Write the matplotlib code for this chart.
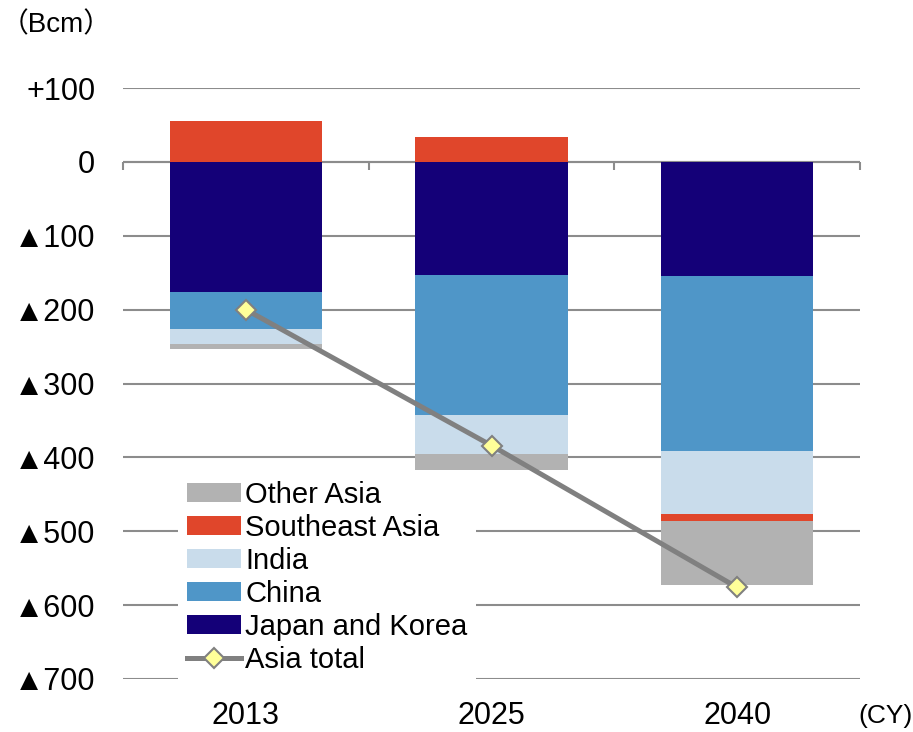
import matplotlib
matplotlib.use("Agg")
import matplotlib.pyplot as plt
import numpy as np

# data (Bcm)
years = ["2013", "2025", "2040"]
japan_korea = [-176, -153, -155]
china = [-50, -190, -237]
india = [-20, -53, -84]
southeast_asia = [55, 34, -10]
other_asia = [-7, -21, -87]
asia_total = [-200, -384, -576]

yticks = [100, 0, -100, -200, -300, -400, -500, -600, -700]
ytick_labels = ["+100", "0", "▲100", "▲200", "▲300", "▲400", "▲500", "▲600", "▲700"]

plt.rcParams['font.family'] = ['Liberation Sans', 'Noto Sans CJK JP', 'DejaVu Sans']

fig = plt.figure(figsize=(9.13, 7.32), dpi=100)
ax = fig.add_axes([123 / 913, 1 - 679 / 732, (860 - 123) / 913, (679 - 88) / 732])

x = np.arange(len(years))
width = 0.62

# stack order away from zero
series = [
    ("Japan and Korea", japan_korea, "#140078"),
    ("China", china, "#4f96c8"),
    ("India", india, "#c9dceb"),
    ("Southeast Asia", southeast_asia, "#e0462b"),
    ("Other Asia", other_asia, "#b2b2b2"),
]
pos = np.zeros(len(years))
neg = np.zeros(len(years))
handles = {}
for name, vals, col in series:
    vals = np.array(vals, dtype=float)
    bottom = np.where(vals >= 0, pos, neg)
    bars = ax.bar(x, vals, width, bottom=bottom, color=col, zorder=2)
    handles[name] = bars
    pos = pos + np.where(vals >= 0, vals, 0)
    neg = neg + np.where(vals < 0, vals, 0)

line, = ax.plot(x, asia_total, color="#808080", lw=3.6, marker="D", markersize=10,
                markerfacecolor="#ffff99", markeredgecolor="#808080", markeredgewidth=1.5,
                zorder=4, label="Asia total")

ax.set_xlim(-0.5, 2.5)
ax.set_ylim(-700, 100)
ax.set_yticks(yticks)
ax.set_yticklabels(ytick_labels)
ax.grid(axis="y", color="#8c8c8c", lw=1.5, zorder=0)
ax.set_axisbelow(True)
for s in ax.spines.values():
    s.set_visible(False)
ax.tick_params(axis="y", length=0, pad=20, labelsize=22)
ax.set_xticks(x)
ax.set_xticklabels(years)
ax.tick_params(axis="x", length=0, pad=16, labelsize=22)

# category axis at zero with boundary ticks
ax.axhline(0, color="#8c8c8c", lw=1.5, zorder=1)
ax.vlines([-0.5, 0.5, 1.5, 2.5], -11, 0, color="#8c8c8c", lw=1.5, zorder=1, clip_on=False)

order = ["Other Asia", "Southeast Asia", "India", "China", "Japan and Korea"]
leg = ax.legend([handles[n] for n in order] + [line], order + ["Asia total"],
                loc="upper left", bbox_to_anchor=(178 / 913, 1 - 472 / 732),
                bbox_transform=fig.transFigure, fontsize=21, frameon=True,
                framealpha=1, edgecolor="none", facecolor="white",
                handlelength=1.85, handleheight=0.6, handletextpad=0.15,
                labelspacing=0.17, borderpad=0.3, borderaxespad=0, fancybox=False)
leg.set_zorder(5)

fig.text(1 / 913, 1 - 25 / 732, "（Bcm）", fontsize=20, va="center", ha="left")
fig.text(913 / 913, 1 - 716 / 732, "(CY)", fontsize=19, va="center", ha="right")

fig.savefig("out.png", dpi=100)
